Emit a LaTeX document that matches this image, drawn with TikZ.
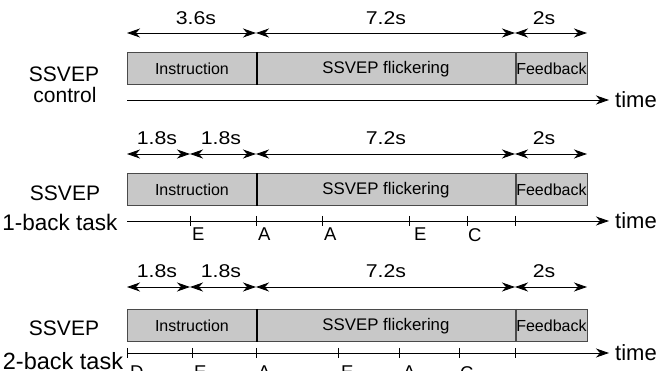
\documentclass[tikz,border=0pt]{standalone}
\usepackage{fontspec}
\setmainfont{Liberation Sans}
\newfontfamily\stretchfont[FakeStretch=1.15]{Liberation Sans}
\usetikzlibrary{arrows.meta}
\definecolor{boxgray}{HTML}{C8C8C8}
\definecolor{edgegray}{HTML}{4A4A4A}
\tikzset{
  dimtip/.tip={Stealth[length=13pt,width=9pt,inset=4pt]},
  dimline/.style={dimtip-dimtip, line width=0.9pt},
  axisline/.style={-dimtip, line width=0.9pt},
  tickmark/.style={line width=0.9pt},
  phase/.style={draw=edgegray, fill=boxgray, line width=0.9pt, inner sep=0pt,
    anchor=north west, minimum height=32.5pt},
  instrtext/.style={font=\fontsize{16}{18}\selectfont},
  flicktext/.style={font=\fontsize{16.8}{18}\selectfont},
  divider/.style={line width=2pt, draw=black},
  fbdivider/.style={line width=1.6pt, draw=edgegray},
  dimlabel/.style={inner sep=0pt, font=\stretchfont\fontsize{18.5}{20}\selectfont},
  sidelabel/.style={inner sep=0pt, font=\fontsize{21}{24}\selectfont},
  timelabel/.style={inner sep=0pt, anchor=west, font=\fontsize{22}{24}\selectfont},
  letter/.style={inner sep=0pt, anchor=north west, font=\fontsize{18.5}{20}\selectfont},
}
\begin{document}
\begin{tikzpicture}[x=1pt,y=-1pt]
\clip (0,0) rectangle (659,371);
\fill[white] (0,0) rectangle (659,371);

% ---------------- Row 1: SSVEP control ----------------
\coordinate (d1a) at (127,33);
\coordinate (d1b) at (256,33);
\coordinate (d1c) at (515,33);
\coordinate (d1d) at (587,33);
\draw[dimline] (d1a) -- (d1b);
\draw[dimline] (d1b) -- (d1c);
\draw[dimline] (d1c) -- (d1d);
\node[dimlabel] (l1a) at (196,18) {3.6s};
\node[dimlabel] (l1b) at (386,18) {7.2s};
\node[dimlabel] (l1c) at (544,18) {2s};

\node[phase, instrtext, minimum width=129pt] (ins1) at (127,52) {Instruction};
\node[phase, flicktext, minimum width=259pt] (fl1) at (256,52) {SSVEP flickering};
\node[phase, instrtext, minimum width=72pt] (fb1) at (515,52) {Feedback};
\draw[divider] (ins1.north east) -- (ins1.south east);
\draw[fbdivider] (fl1.north east) -- (fl1.south east);

\coordinate (a1s) at (127,100);
\coordinate (a1e) at (609,100);
\draw[axisline] (a1s) -- (a1e);
\node[timelabel] (time1) at (615,100) {time};

\node[sidelabel] (s1) at (64,74) {SSVEP};
\node[sidelabel] (c1) at (65,95) {control};

% ---------------- Row 2: 1-back ----------------
\coordinate (d2a) at (127,154);
\coordinate (d2b) at (190,154);
\coordinate (d2c) at (256,154);
\coordinate (d2d) at (515,154);
\coordinate (d2e) at (587,154);
\draw[dimline] (d2a) -- (d2b);
\draw[dimline] (d2b) -- (d2c);
\draw[dimline] (d2c) -- (d2d);
\draw[dimline] (d2d) -- (d2e);
\node[dimlabel] (l2a) at (157,138) {1.8s};
\node[dimlabel] (l2b) at (221,138) {1.8s};
\node[dimlabel] (l2c) at (386,138) {7.2s};
\node[dimlabel] (l2d) at (544,138) {2s};

\node[phase, instrtext, minimum width=129pt] (ins2) at (127,173) {Instruction};
\node[phase, flicktext, minimum width=259pt] (fl2) at (256,173) {SSVEP flickering};
\node[phase, instrtext, minimum width=72pt] (fb2) at (515,173) {Feedback};
\draw[divider] (ins2.north east) -- (ins2.south east);
\draw[fbdivider] (fl2.north east) -- (fl2.south east);

\coordinate (a2s) at (127,221);
\coordinate (a2e) at (609,221);
\draw[axisline] (a2s) -- (a2e);
\node[timelabel] (time2) at (615,221) {time};
\foreach \x/\n in {190/a,256/b,322/c,409/d,467/e,515/f}{
  \coordinate (t2\n) at (\x,221);
  \draw[tickmark] ([yshift=5pt]t2\n) -- ([yshift=-5pt]t2\n);
}
\node[letter] (e2a) at (192,228) {E};
\node[letter] (e2b) at (258,228) {A};
\node[letter] (e2c) at (324,228) {A};
\node[letter] (e2d) at (414,228) {E};
\node[letter] (e2e) at (468,228) {C};

\node[sidelabel] (s2) at (65,193) {SSVEP};
\node[sidelabel, font=\fontsize{22.5}{24}\selectfont] (k2) at (60,222) {1-back task};

% ---------------- Row 3: 2-back ----------------
\coordinate (d3a) at (127,287);
\coordinate (d3b) at (190,287);
\coordinate (d3c) at (256,287);
\coordinate (d3d) at (515,287);
\coordinate (d3e) at (587,287);
\draw[dimline] (d3a) -- (d3b);
\draw[dimline] (d3b) -- (d3c);
\draw[dimline] (d3c) -- (d3d);
\draw[dimline] (d3d) -- (d3e);
\node[dimlabel] (l3a) at (157,271) {1.8s};
\node[dimlabel] (l3b) at (221,271) {1.8s};
\node[dimlabel] (l3c) at (386,271) {7.2s};
\node[dimlabel] (l3d) at (544,271) {2s};

\node[phase, instrtext, minimum width=129pt] (ins3) at (127,309) {Instruction};
\node[phase, flicktext, minimum width=259pt] (fl3) at (256,309) {SSVEP flickering};
\node[phase, instrtext, minimum width=72pt] (fb3) at (515,309) {Feedback};
\draw[divider] (ins3.north east) -- (ins3.south east);
\draw[fbdivider] (fl3.north east) -- (fl3.south east);

\coordinate (a3s) at (127,353);
\coordinate (a3e) at (609,353);
\draw[axisline] (a3s) -- (a3e);
\node[timelabel] (time3) at (615,353) {time};
\foreach \x/\n in {127/a,192/b,256/c,338/d,399/e,459/f,515/g}{
  \coordinate (t3\n) at (\x,353);
  \draw[tickmark] ([yshift=5pt]t3\n) -- ([yshift=-5pt]t3\n);
}
\node[letter] (e3a) at (130,366) {D};
\node[letter] (e3b) at (194,366) {E};
\node[letter] (e3c) at (258,366) {A};
\node[letter] (e3d) at (341,366) {E};
\node[letter] (e3e) at (403,366) {A};
\node[letter] (e3f) at (460,366) {C};

\node[sidelabel] (s3) at (64,328) {SSVEP};
\node[sidelabel, font=\fontsize{23.5}{26}\selectfont] (k3) at (63,361) {2-back task};
\end{tikzpicture}
\end{document}
